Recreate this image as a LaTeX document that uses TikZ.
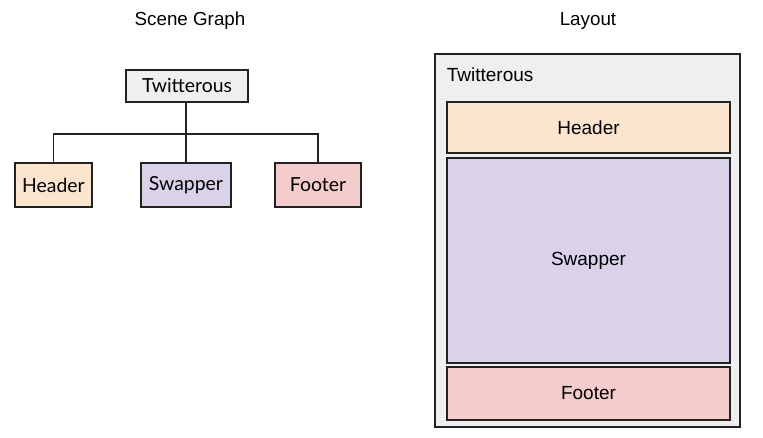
\documentclass[tikz,border=0pt]{standalone}
\usepackage{fontspec}
\setmainfont{Liberation Sans}
\newfontfamily\latofont{Lato}
\usetikzlibrary{positioning}
\definecolor{edgegray}{HTML}{222222}
\definecolor{rootgray}{HTML}{EFEFEF}
\definecolor{headpeach}{HTML}{FCE5CD}
\definecolor{swaplilac}{HTML}{D9D2E9}
\definecolor{footrose}{HTML}{F4CCCC}

\begin{document}
\begin{tikzpicture}[x=1pt, y=-1pt, line width=1.6pt,
  treebox/.style={draw=edgegray, inner sep=0pt, font=\latofont\fontsize{19.4}{22}\selectfont},
  layoutbox/.style={draw=edgegray, inner sep=0pt, font=\fontsize{19}{22}\selectfont},
  title/.style={font=\fontsize{18.8}{22}\selectfont}]

% Canvas
\useasboundingbox[fill=white] (0,0) rectangle (763,438);

% Titles
\node[title] (sgtitle) at (190,21) {Scene Graph};
\node[title] (lytitle) at (588,21) {Layout};

% Scene graph
\node[treebox, fill=rootgray, minimum width=122pt, minimum height=32pt] (tw) at (187,86) {Twitterous};
\node[treebox, fill=headpeach, minimum width=77pt, minimum height=44pt] (hd) at (53.5,185) {Header};
\node[treebox, fill=swaplilac, minimum width=90pt, minimum height=44pt] (sw) at (186,185) {Swapper};
\node[treebox, fill=footrose, minimum width=86pt, minimum height=44pt] (ft) at (318,185) {Footer};
\coordinate (split) at (186,134);
\draw[edgegray, line width=2.6pt] (tw.south -| split) -- (split);
\draw[edgegray] (split) -| (hd.north);
\draw[edgegray] (split) -- (sw.north);
\draw[edgegray] (split) -| (ft.north);

% Layout
\node[layoutbox, fill=rootgray, minimum width=305pt, minimum height=373pt] (lyroot) at (587.5,240.5) {};
\node[font=\fontsize{19}{22}\selectfont, anchor=west, inner sep=0pt] (lylabel) at (446,75) {Twitterous};
\node[layoutbox, fill=headpeach, minimum width=283pt, minimum height=51pt] (lyhd) at (588.5,127.5) {Header};
\node[layoutbox, fill=swaplilac, minimum width=283pt, minimum height=205pt] (lysw) at (588.5,260.5) {Swapper};
\node[layoutbox, fill=footrose, minimum width=283pt, minimum height=53pt] (lyft) at (588.5,393.5) {Footer};

\end{tikzpicture}
\end{document}
